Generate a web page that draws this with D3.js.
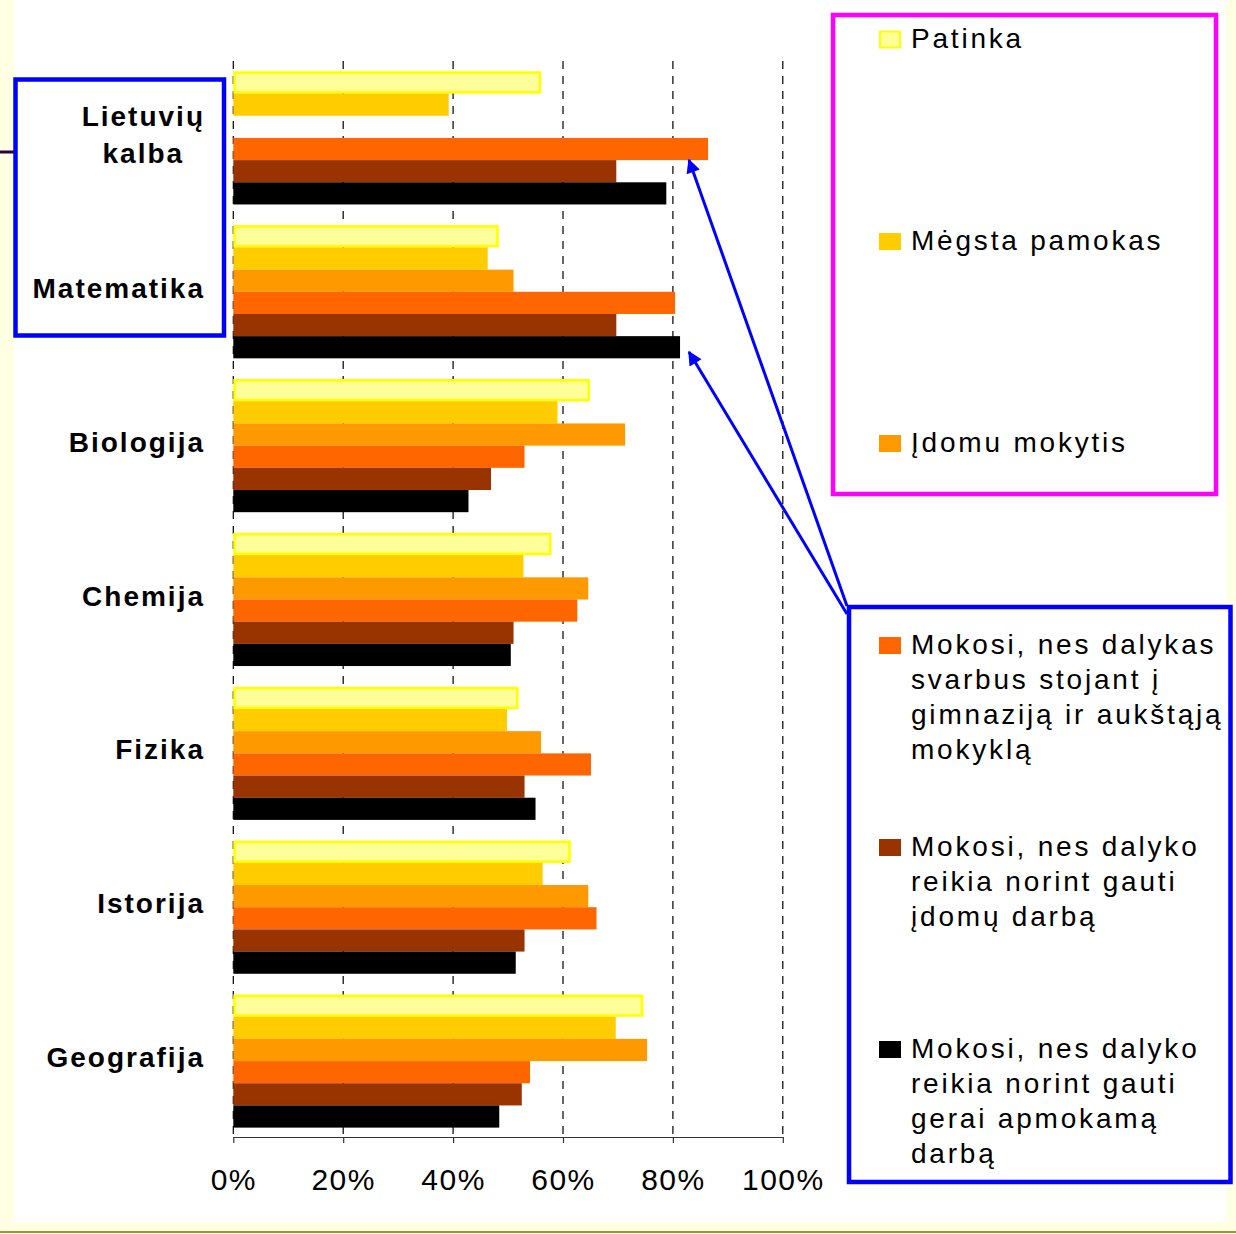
<!DOCTYPE html>
<html><head><meta charset="utf-8">
<script src="https://cdn.jsdelivr.net/npm/d3@7"></script>
<style>
html,body{margin:0;padding:0;background:#fff;}
svg{display:block;font-family:"Liberation Sans",Arial,sans-serif;}
</style></head>
<body>
<svg id="chart" width="1236" height="1234"></svg>
<script>
// ---- data ----
const categories = ["Lietuvių kalba","Matematika","Biologija","Chemija","Fizika","Istorija","Geografija"];
const categoryLines = [["Lietuvių","kalba"],["Matematika"],["Biologija"],["Chemija"],["Fizika"],["Istorija"],["Geografija"]];
const seriesNames = ["Patinka","Mėgsta pamokas","Įdomu mokytis",
  "Mokosi, nes dalykas svarbus stojant į gimnaziją ir aukštąją mokyklą",
  "Mokosi, nes dalyko reikia norint gauti įdomų darbą",
  "Mokosi, nes dalyko reikia norint gauti gerai apmokamą darbą"];
const legendLines = [["Patinka"],["Mėgsta pamokas"],["Įdomu mokytis"],
  ["Mokosi, nes dalykas","svarbus stojant į","gimnaziją ir aukštąją","mokyklą"],
  ["Mokosi, nes dalyko","reikia norint gauti","įdomų darbą"],
  ["Mokosi, nes dalyko","reikia norint gauti","gerai apmokamą","darbą"]];
const patinka      = [56.0, 48.3, 64.9, 57.9, 51.9, 61.4, 74.6];
const megsta       = [39.2, 46.3, 59.0, 52.8, 49.8, 56.3, 69.6];
const idomu        = [null, 51.0, 71.3, 64.6, 56.0, 64.6, 75.3];
const svarbus      = [86.4, 80.4, 53.0, 62.6, 65.1, 66.1, 54.0];
const idomusDarbas = [69.7, 69.7, 46.9, 51.0, 53.0, 53.0, 52.5];
const apmokamas    = [78.8, 81.3, 42.8, 50.5, 55.0, 51.4, 48.4];
const tickValues = [0, 20, 40, 60, 80, 100];
const tickLabels = ["0%","20%","40%","60%","80%","100%"];
const colors = ["#FFFF99","#FFCC00","#FF9900","#FF6600","#993300","#000000"];

const seriesValues = [patinka, megsta, idomu, svarbus, idomusDarbas, apmokamas];

// ---- drawing ----
const svg = d3.select("#chart");
const W = 1236, H = 1234;

// slide background
svg.append("rect").attr("x",0).attr("y",0).attr("width",W).attr("height",H).attr("fill","#FFFFE3");
svg.append("rect").attr("x",14).attr("y",0).attr("width",1212).attr("height",1222).attr("fill","#FFFFFF");
svg.append("line").attr("x1",0).attr("x2",W).attr("y1",1232).attr("y2",1232).attr("stroke","#999933").attr("stroke-width",2);
svg.append("line").attr("x1",0).attr("x2",14).attr("y1",152).attr("y2",152).attr("stroke","#330033").attr("stroke-width",3);

const x = d3.scaleLinear().domain([0,100]).range([233.3, 782.8]);
const y = d3.scaleBand().domain(categories).range([61, 1138]).paddingInner(0.135).paddingOuter(0.0675);
const ys = d3.scaleBand().domain(d3.range(seriesNames.length)).range([0, y.bandwidth()]).padding(0);

// gridlines
svg.append("g").selectAll("line").data(tickValues).join("line")
  .attr("x1",d=>x(d)).attr("x2",d=>x(d)).attr("y1",61).attr("y2",1137)
  .attr("stroke","#000").attr("stroke-width",1.2).attr("stroke-dasharray","8,7");

// bars
const groups = svg.append("g").selectAll("g").data(categories).join("g")
  .attr("transform", d=>`translate(0,${y(d)})`);
groups.each(function(cat, ci){
  const g = d3.select(this);
  seriesValues.forEach((vals, si)=>{
    const v = vals[ci];
    if (v == null) return;
    const isP = si === 0;
    g.append("rect")
      .attr("x", x(0) + (isP?1.2:0))
      .attr("y", ys(si) + (isP?1.2:0))
      .attr("width", x(v) - x(0) - (isP?2.4:0))
      .attr("height", ys.bandwidth() - (isP?2.4:0))
      .attr("fill", colors[si])
      .attr("stroke", isP ? "#FFFF00" : "none")
      .attr("stroke-width", isP ? 2.6 : 0);
  });
});

// x axis
const axisG = svg.append("g").attr("transform","translate(0,1137)");
axisG.call(d3.axisBottom(x).tickValues(tickValues).tickFormat((d,i)=>tickLabels[i]).tickSize(6).tickSizeOuter(0));
axisG.select(".domain").attr("stroke","#333").attr("stroke-width",1.2);
axisG.selectAll(".tick line").attr("stroke","#333").attr("stroke-width",1.2);
axisG.selectAll(".tick text").attr("font-size",30).attr("fill","#000")
  .attr("font-family","'Liberation Sans',Arial,sans-serif").attr("letter-spacing","1.5px")
  .attr("dy",0).attr("y",53);

// left blue box
svg.append("rect").attr("x",15.5).attr("y",79.5).attr("width",208.5).attr("height",256)
  .attr("fill","#fff").attr("stroke","#0000FF").attr("stroke-width",4.5);

// category labels
const labelRight = 205;
categories.forEach((cat, ci)=>{
  const lines = categoryLines[ci];
  const cy = y(cat) + y.bandwidth()/2;
  const lh = 37;
  const t = svg.append("text").attr("font-size",28).attr("font-weight","bold").attr("letter-spacing","2px")
    .attr("fill","#000");
  const spans = lines.map((ln, li)=> t.append("tspan").text(ln)
      .attr("y", cy + (li - (lines.length-1)/2)*lh + (lines.length>1?7:6)));
  let maxW = 0;
  spans.forEach(s=>{ maxW = Math.max(maxW, s.node().getComputedTextLength()); });
  const cx = labelRight - maxW/2;
  spans.forEach(s=> s.attr("x", cx).attr("text-anchor","middle"));
});

// legend boxes
svg.append("rect").attr("x",833).attr("y",15).attr("width",383).attr("height",479)
  .attr("fill","#fff").attr("stroke","#FF00FF").attr("stroke-width",4.5);
svg.append("rect").attr("x",849).attr("y",607).attr("width",381.5).attr("height",575)
  .attr("fill","#fff").attr("stroke","#0000FF").attr("stroke-width",4.5);

// legend entries
const legY0 = 39, legStep = 202, lineH = 35;
seriesNames.forEach((name, si)=>{
  const cy = legY0 + si*legStep;
  svg.append("rect").attr("x", si===0?880:879).attr("y", cy-8 + (si===0?0.5:0))
    .attr("width", si===0?20:22).attr("height", si===0?16:17)
    .attr("fill", colors[si]).attr("stroke", si===0?"#FFFF00":"none").attr("stroke-width", si===0?2:0);
  const t = svg.append("text").attr("font-size",28).attr("letter-spacing","2.8px").attr("fill","#000");
  legendLines[si].forEach((ln, li)=>{
    t.append("tspan").attr("x",911).attr("y", cy + 9 + li*lineH).text(ln);
  });
});

// arrows
const defs = svg.append("defs");
defs.append("marker").attr("id","arr").attr("viewBox","0 0 10 10").attr("refX",9).attr("refY",5)
  .attr("markerUnits","userSpaceOnUse").attr("markerWidth",18).attr("markerHeight",14).attr("orient","auto")
  .append("path").attr("d","M0,0 L10,5 L0,10 z").attr("fill","#0000FF");
const arrows = [[847,606,689,160],[847,614,689,352]];
svg.append("g").selectAll("line").data(arrows).join("line")
  .attr("x1",d=>d[0]).attr("y1",d=>d[1]).attr("x2",d=>d[2]).attr("y2",d=>d[3])
  .attr("stroke","#0000FF").attr("stroke-width",3).attr("marker-end","url(#arr)");
</script>
</body></html>
